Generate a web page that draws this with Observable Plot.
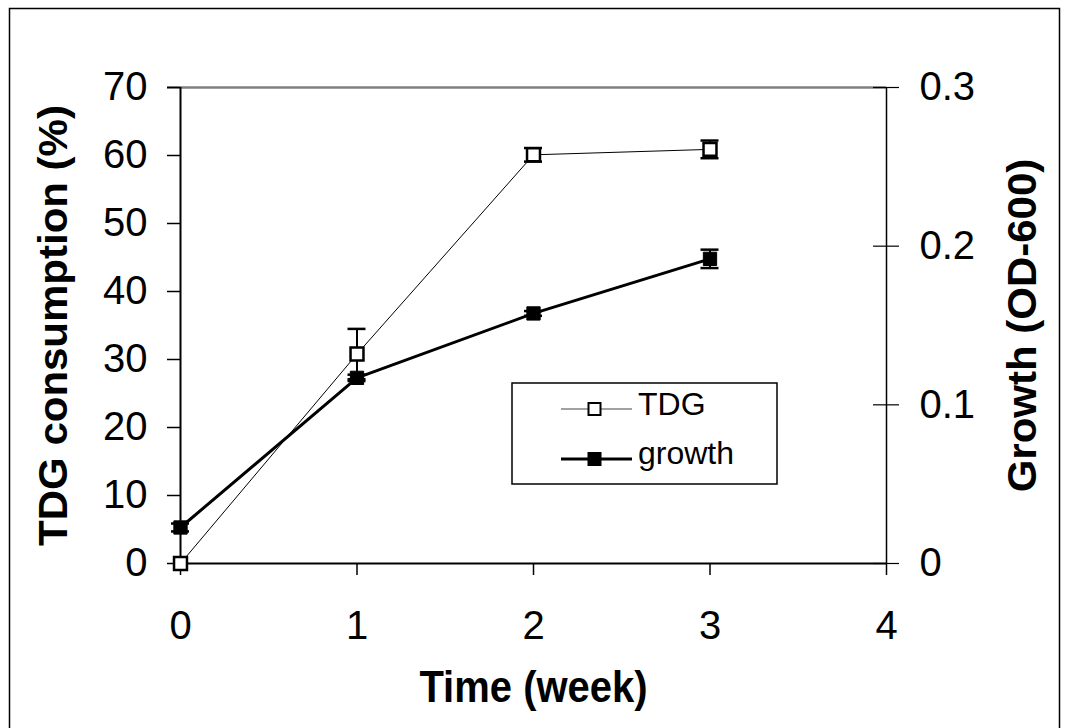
<!DOCTYPE html>
<html>
<head>
<meta charset="utf-8">
<script src="https://cdn.jsdelivr.net/npm/d3@7"></script>
<script src="https://cdn.jsdelivr.net/npm/@observablehq/plot@0.6"></script>
<style>
  html, body { margin: 0; padding: 0; background: white; }
  #chart { position: relative; width: 1067px; height: 728px; }
</style>
</head>
<body>
<div id="chart"></div>
<script>
// ---- data ----
const weeks = [0, 1, 2, 3];
const tdg = [0, 30.8, 60.1, 60.9];          // TDG consumption (%)
const tdgErr = [0, 3.7, 1.0, 1.3];
const growth = [0.0227, 0.117, 0.1576, 0.192]; // Growth (OD-600)
const growthErr = [0.0025, 0.002, 0.0015, 0.0058];
const xTicks = [0, 1, 2, 3, 4];
const yTicks = [0, 10, 20, 30, 40, 50, 60, 70];
const rightTicks = [0, 0.1, 0.2, 0.3];
const seriesNames = ["TDG", "growth"];

const yMax = 70, rMax = 0.3;
const k = yMax / rMax; // maps growth onto the left scale

const rows = weeks.map((w, i) => ({
  week: w, tdg: tdg[i], tdgErr: tdgErr[i],
  g: growth[i] * k, gErr: growthErr[i] * k
}));

const font = "'Liberation Sans', Arial, sans-serif";

const plot = Plot.plot({
  width: 1067,
  height: 728,
  marginLeft: 180,
  marginRight: 181,
  marginTop: 87,
  marginBottom: 165,
  style: { fontFamily: font, background: "white", color: "black", overflow: "visible" },
  x: { domain: [0, 4] },
  y: { domain: [0, yMax] },
  marks: [
    // top gray border of plot area
    Plot.ruleY([yMax], { stroke: "#808080", strokeWidth: 2.5, insetLeft: -13 }),
    // left axis
    Plot.axisY(yTicks, { anchor: "left", tickSize: 13, tickPadding: 20, fontSize: 40, label: null, strokeWidth: 1.5 }),
    Plot.ruleX([0], { strokeWidth: 2 }),
    // right axis
    Plot.axisY(rightTicks.map(v => v * k), {
      anchor: "right", tickSize: 0, tickPadding: 33, fontSize: 40, label: null,
      tickFormat: d => String(+(d / k).toFixed(2))
    }),
    Plot.ruleY(rightTicks.map(v => v * k), { y: d => d, x1: 4, x2: 4, insetLeft: -13, insetRight: -13, strokeWidth: 1.2 }),
    Plot.ruleX([4], { strokeWidth: 1.5 }),
    // x axis
    Plot.axisX(xTicks, { tickSize: 12, tickPadding: 35, fontSize: 40, label: null, strokeWidth: 1.5, tickFormat: d => String(d) }),
    Plot.ruleY([0], { strokeWidth: 2 }),
    // axis titles
    Plot.text(["TDG consumption (%)"], { frameAnchor: "left", dx: -126, rotate: -90, textAnchor: "middle", fontSize: 40, fontWeight: "bold", text: d => d }),
    Plot.text(["Growth (OD-600)"], { frameAnchor: "right", dx: 137, rotate: -90, textAnchor: "middle", fontSize: 40, fontWeight: "bold", text: d => d }),
    Plot.text(["Time (week)"], { frameAnchor: "bottom", dy: 138, fontSize: 40, fontWeight: "bold", text: d => d }),
    // lines
    Plot.line(rows, { x: "week", y: "tdg", stroke: "black", strokeWidth: 1 }),
    Plot.line(rows, { x: "week", y: "g", stroke: "black", strokeWidth: 3 }),
    // error bars TDG
    Plot.ruleX(rows.filter(d => d.tdgErr > 0), { x: "week", y1: d => d.tdg - d.tdgErr, y2: d => d.tdg + d.tdgErr, strokeWidth: 2 }),
    Plot.ruleY(rows.filter(d => d.tdgErr > 0), { y: d => d.tdg + d.tdgErr, x1: "week", x2: "week", insetLeft: -9, insetRight: -9, strokeWidth: 2.5 }),
    Plot.ruleY(rows.filter(d => d.tdgErr > 0), { y: d => d.tdg - d.tdgErr, x1: "week", x2: "week", insetLeft: -9, insetRight: -9, strokeWidth: 2.5 }),
    // error bars growth
    Plot.ruleX(rows, { x: "week", y1: d => d.g - d.gErr, y2: d => d.g + d.gErr, strokeWidth: 2 }),
    Plot.ruleY(rows, { y: d => d.g + d.gErr, x1: "week", x2: "week", insetLeft: -9, insetRight: -9, strokeWidth: 2.5 }),
    Plot.ruleY(rows, { y: d => d.g - d.gErr, x1: "week", x2: "week", insetLeft: -9, insetRight: -9, strokeWidth: 2.5 }),
    // markers
    Plot.dot(rows, { x: "week", y: "tdg", symbol: "square", r: 7.3, fill: "white", stroke: "black", strokeWidth: 2.5 }),
    Plot.dot(rows, { x: "week", y: "g", symbol: "square", r: 7.5, fill: "black", stroke: "black", strokeWidth: 1 })
  ]
});

// the reference's bold titles are slightly stretched along their length / height
function stretch(el, sx, sy) {
  const num = /^-?[\d.]+$/;
  const t = el.getAttribute("transform") || "";
  const xa = el.getAttribute("x"), ya = el.getAttribute("y");
  let px = 0, py = 0;
  if (xa !== null && num.test(xa)) { px = +xa; el.removeAttribute("x"); }
  if (ya !== null && num.test(ya)) { py = +ya; el.removeAttribute("y"); }
  el.setAttribute("transform", `${t} translate(${px},${py}) scale(${sx},${sy})`);
}
d3.select(plot).selectAll("text").each(function () {
  const t = this.getAttribute("transform") || "";
  const bold = (this.getAttribute("font-weight") || (this.parentNode && this.parentNode.getAttribute("font-weight")) || "") === "bold";
  if (t.includes("rotate")) stretch(this, 1.05, 1);
  else if (bold) stretch(this, 1, 1.1);
});

// outer border + legend drawn into the same svg
const svg = d3.select(plot);
svg.append("rect")
  .attr("x", 9.5).attr("y", 8.5).attr("width", 1050).attr("height", 740)
  .attr("fill", "none").attr("stroke", "black").attr("stroke-width", 1.5);

const lg = svg.append("g").attr("font-family", font).attr("text-anchor", "start");
lg.append("rect").attr("x", 512).attr("y", 383).attr("width", 265).attr("height", 101)
  .attr("fill", "white").attr("stroke", "black").attr("stroke-width", 1.5);
const legendItems = [
  { name: seriesNames[0], y: 409, base: 415, sw: 1, fill: "white", stroke: "#444" },
  { name: seriesNames[1], y: 459, base: 464, sw: 3, fill: "black", stroke: "black" }
];
legendItems.forEach(it => {
  lg.append("line").attr("x1", 561).attr("x2", 632).attr("y1", it.y).attr("y2", it.y)
    .attr("stroke", it.stroke).attr("stroke-width", it.sw);
  lg.append("rect").attr("x", 588.5).attr("y", it.y - 6).attr("width", 12).attr("height", 12)
    .attr("fill", it.fill).attr("stroke", "black").attr("stroke-width", 2);
  lg.append("text").attr("font-size", 32).attr("text-anchor", "start")
    .attr("x", 638).attr("y", it.base).text(it.name);
});

document.getElementById("chart").appendChild(plot);
</script>
</body>
</html>
